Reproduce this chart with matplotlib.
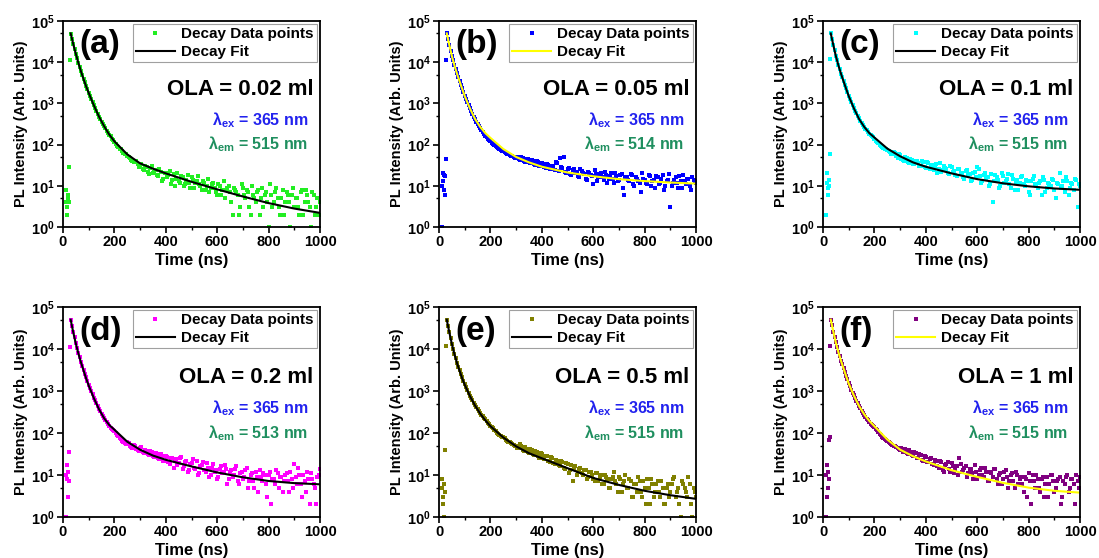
"""
PL decay curves for six OLA amounts, log intensity vs time.
"""

import matplotlib
matplotlib.use("Agg")
import matplotlib.pyplot as plt
from matplotlib.ticker import MultipleLocator, LogLocator, NullFormatter

plt.rcParams["font.family"] = ["Liberation Sans", "DejaVu Sans"]
plt.rcParams["font.weight"] = "bold"
plt.rcParams["mathtext.fontset"] = "custom"
plt.rcParams["mathtext.rm"] = "Liberation Sans:bold"
plt.rcParams["mathtext.bf"] = "Liberation Sans:bold"
plt.rcParams["mathtext.default"] = "bf"

# Time channels of the decay (ns): two interleaved sets of channels
time_ns = list(range(30, 1001, 10))
time_ns2 = list(range(35, 1000, 10))

# Points before the peak (ns) and their counts, one list per panel
pre_t_a = [10, 12, 14, 16, 18, 20, 22, 25, 27]
pre_a = [8, 4, 3, 2, 5, 6, 4, 29, 11000]
pre_t_b = [10, 12, 14, 16, 18, 20, 22, 24, 26, 27]
pre_b = [1, 10, 20, 13, 18, 8, 6, 17, 45, 11000]
pre_t_c = [12, 14, 16, 18, 20, 22, 24, 26, 27]
pre_c = [2, 12, 20, 9, 6, 14, 10, 60, 12000]
pre_t_d = [10, 12, 14, 16, 18, 20, 22, 25, 27]
pre_d = [1, 10, 17, 8, 3, 12, 7, 35, 11000]
pre_t_e = [10, 12, 14, 16, 18, 20, 22, 25, 27]
pre_e = [8, 5, 3, 2, 1, 6, 4, 40, 12000]
pre_t_f = [10, 12, 14, 16, 18, 20, 22, 24, 26, 27]
pre_f = [1, 10, 17, 3, 12, 5, 8, 70, 80, 12000]

# Decay data points on time_ns
data_a = [48000, 27000, 16000, 9800, 6200, 4000, 2700, 1800, 1250, 900,
          650, 480, 360, 280, 215, 170, 140, 115, 95, 80,
          70, 60, 52, 46, 40, 38, 33, 30, 26, 31,
          22, 27, 20, 24, 17, 22, 15, 21, 18, 11,
          19, 15, 13, 17, 10, 14, 12, 16, 9, 13,
          11, 8, 12, 10, 7, 11, 9, 6, 10, 8,
          5, 9, 7, 2, 8, 6, 3, 9, 5, 7,
          2, 6, 4, 8, 5, 3, 7, 1, 6, 4,
          9, 3, 5, 2, 7, 4, 6, 3, 5, 2,
          8, 4, 6, 3, 7, 2, 5, 4]
data_b = [50000, 26000, 14000, 8500, 5400, 3500, 2300, 1550, 1080, 770,
          560, 420, 320, 250, 200, 165, 140, 120, 105, 92,
          82, 75, 68, 62, 58, 54, 50, 47, 44, 49,
          40, 45, 37, 42, 34, 39, 31, 36, 28, 33,
          26, 31, 24, 35, 48, 27, 22, 26, 19, 24,
          21, 17, 25, 20, 15, 22, 18, 11, 19, 16,
          21, 14, 18, 15, 20, 12, 17, 14, 19, 6,
          16, 13, 18, 10, 15, 12, 20, 14, 11, 17,
          13, 9, 16, 12, 18, 10, 14, 3, 12, 16,
          9, 13, 18, 11, 15, 8, 14, 12]
data_c = [50000, 26000, 14500, 8600, 5300, 3500, 2300, 1550, 1080, 780,
          570, 430, 330, 270, 220, 185, 160, 140, 115, 100,
          88, 80, 75, 65, 58, 62, 48, 55, 42, 50,
          38, 45, 34, 41, 36, 30, 38, 27, 35, 30,
          24, 33, 26, 22, 30, 25, 19, 28, 23, 17,
          25, 21, 15, 24, 19, 14, 22, 28, 17, 13,
          20, 16, 11, 4, 18, 14, 10, 17, 13, 19,
          9, 15, 12, 8, 16, 11, 14, 7, 13, 17,
          10, 12, 6, 14, 9, 11, 15, 8, 12, 20,
          10, 7, 13, 9, 11, 15, 3, 10]
data_d = [50000, 25500, 14000, 8000, 5000, 3200, 2100, 1400, 980, 700,
          510, 380, 290, 230, 180, 150, 125, 110, 90, 78,
          66, 58, 62, 50, 45, 48, 40, 44, 36, 40,
          31, 37, 28, 33, 26, 31, 22, 28, 20, 26,
          15, 24, 19, 27, 16, 21, 13, 19, 15, 22,
          11, 17, 13, 19, 9, 15, 12, 8, 14, 11,
          17, 6, 12, 9, 14, 7, 11, 8, 13, 5,
          10, 7, 12, 4, 9, 11, 6, 10, 2, 8,
          13, 5, 9, 7, 11, 4, 8, 18, 6, 10,
          3, 7, 12, 2, 8, 5, 9, 14]
data_e = [50000, 25000, 13500, 7700, 4700, 3100, 2100, 1450, 1050, 780,
          600, 470, 370, 300, 250, 210, 170, 150, 130, 110,
          95, 85, 80, 70, 62, 58, 52, 48, 44, 50,
          38, 42, 33, 39, 30, 35, 26, 31, 24, 28,
          20, 25, 18, 22, 16, 20, 14, 18, 13, 7,
          16, 12, 15, 10, 13, 9, 12, 8, 11, 7,
          10, 6, 9, 5, 8, 12, 6, 9, 4, 7,
          5, 8, 3, 6, 4, 7, 3, 5, 8, 2,
          6, 4, 7, 3, 5, 2, 6, 4, 8, 3,
          5, 1, 6, 4, 9, 2, 5, 3]
data_f = [50000, 26000, 14500, 8500, 5300, 3500, 2300, 1550, 1080, 790,
          580, 440, 340, 270, 220, 180, 155, 140, 115, 95,
          82, 72, 66, 58, 53, 48, 44, 40, 36, 42,
          31, 36, 28, 33, 25, 30, 22, 27, 20, 25,
          17, 22, 15, 20, 12, 18, 14, 19, 11, 16,
          25, 12, 15, 9, 14, 11, 17, 8, 13, 10,
          15, 7, 12, 9, 14, 6, 11, 8, 13, 5,
          10, 7, 12, 6, 9, 4, 8, 11, 2, 7,
          10, 5, 8, 3, 9, 6, 10, 4, 7, 9,
          3, 6, 10, 5, 8, 2, 7, 9]

# Decay data points on time_ns2
data2_a = [37000, 21000, 12500, 7800, 5000, 3300, 2200, 1500, 1080, 770,
           560, 420, 320, 250, 195, 160, 130, 105, 88, 76,
           64, 58, 50, 43, 37, 40, 29, 34, 24, 28,
           19, 30, 22, 18, 25, 13, 20, 16, 23, 14,
           10, 21, 12, 16, 11, 18, 9, 14, 12, 17,
           10, 13, 8, 15, 9, 12, 7, 11, 6, 13,
           8, 10, 4, 9, 7, 2, 11, 6, 8, 3,
           10, 5, 7, 2, 9, 6, 4, 11, 3, 7,
           5, 2, 8, 4, 6, 1, 9, 5, 3, 7,
           2, 8, 4, 1, 6, 3, 2]
data2_b = [37000, 19000, 11000, 6800, 4300, 2800, 1900, 1280, 900, 650,
           480, 360, 280, 225, 180, 150, 130, 112, 98, 86,
           78, 70, 65, 60, 55, 52, 46, 50, 42, 46,
           38, 44, 35, 40, 32, 37, 30, 34, 27, 32,
           25, 30, 38, 23, 28, 50, 21, 27, 18, 25,
           22, 16, 23, 19, 14, 21, 17, 24, 13, 19,
           16, 22, 12, 17, 15, 20, 13, 18, 9, 16,
           14, 19, 11, 16, 13, 7, 15, 12, 18, 10,
           14, 17, 11, 15, 8, 13, 19, 10, 14, 12,
           17, 9, 13, 15, 10, 16, 13]
data2_c = [37000, 19500, 11200, 6900, 4300, 2850, 1900, 1300, 920, 670,
           500, 380, 300, 245, 200, 170, 150, 125, 108, 94,
           84, 78, 70, 60, 66, 52, 58, 45, 40, 47,
           36, 43, 33, 39, 31, 40, 28, 37, 25, 32,
           28, 21, 35, 24, 27, 20, 30, 22, 18, 26,
           20, 16, 23, 18, 13, 21, 16, 25, 12, 18,
           15, 10, 19, 13, 16, 9, 20, 12, 15, 11,
           18, 8, 14, 12, 17, 10, 13, 6, 15, 11,
           9, 13, 16, 7, 12, 10, 14, 5, 11, 9,
           13, 16, 6, 12, 8, 14, 11]
data2_d = [36000, 19000, 10500, 6300, 4000, 2600, 1700, 1180, 830, 600,
           440, 330, 260, 205, 165, 135, 118, 100, 84, 72,
           62, 55, 58, 47, 52, 42, 38, 46, 34, 38,
           30, 35, 27, 32, 24, 29, 21, 27, 18, 25,
           22, 17, 25, 14, 20, 12, 18, 24, 14, 10,
           16, 20, 12, 15, 10, 18, 13, 9, 16, 12,
           14, 8, 13, 10, 16, 6, 12, 9, 15, 7,
           11, 5, 9, 13, 7, 10, 3, 12, 8, 6,
           11, 9, 4, 10, 7, 12, 5, 9, 15, 6,
           10, 4, 8, 11, 6, 2, 10]
data2_e = [35000, 18500, 10000, 6000, 3800, 2550, 1750, 1250, 900, 680,
           530, 420, 330, 270, 230, 190, 160, 140, 120, 102,
           90, 82, 75, 66, 60, 55, 50, 45, 54, 40,
           46, 36, 42, 32, 37, 28, 33, 25, 29, 22,
           27, 19, 23, 17, 21, 15, 19, 11, 17, 14,
           10, 14, 11, 13, 8, 12, 10, 7, 11, 9,
           6, 10, 8, 5, 9, 7, 4, 8, 6, 10,
           5, 7, 3, 6, 9, 4, 7, 2, 5, 8,
           3, 6, 4, 7, 2, 5, 3, 6, 9, 4,
           2, 7, 5, 3, 6, 1, 4]
data2_f = [37000, 19500, 11000, 6800, 4300, 2850, 1900, 1300, 920, 680,
           510, 390, 300, 245, 200, 165, 145, 125, 105, 88,
           77, 68, 62, 55, 50, 46, 42, 45, 38, 33,
           39, 30, 35, 26, 31, 23, 28, 20, 24, 18,
           23, 16, 21, 13, 17, 20, 12, 16, 14, 10,
           18, 13, 16, 11, 14, 8, 12, 10, 15, 9,
           12, 7, 11, 14, 8, 10, 6, 12, 9, 7,
           11, 5, 10, 8, 6, 9, 3, 7, 10, 5,
           8, 4, 9, 6, 3, 10, 7, 5, 8, 2,
           7, 9, 4, 8, 6, 10, 5]

fit_t = [30, 35, 40, 50, 60, 70, 80, 90, 100, 120, 140, 160, 180, 200,
         250, 300, 350, 400, 500, 600, 700, 800, 900, 1000]
fit_a = [50000, 37000, 27500, 16000, 9600, 6000, 3900, 2600, 1800, 900,
         480, 280, 175, 120, 58, 35, 26, 20, 12.5, 8.2, 5.5, 3.8, 2.8, 2.2]
fit_b = [50000, 36000, 26000, 14000, 8300, 5200, 3400, 2250, 1500, 760,
         420, 270, 190, 145, 78, 50, 37, 29, 21, 17, 14.5, 13, 12, 11.3]
fit_c = [50000, 36000, 26000, 14000, 8300, 5200, 3400, 2250, 1500, 760,
         420, 270, 190, 148, 80, 52, 37, 29, 20, 14.5, 11.5, 9.7, 8.6, 8]
fit_d = [50000, 35000, 25000, 13500, 7800, 4800, 3100, 2000, 1350, 680,
         370, 225, 155, 120, 62, 40, 29, 23, 16, 11.5, 8.8, 7.2, 6.4, 6]
fit_e = [50000, 35000, 25000, 13000, 7500, 4600, 3000, 2000, 1400, 760,
         450, 290, 200, 145, 78, 48, 33, 25, 14.5, 8.5, 5.8, 4.2, 3.3, 2.7]
fit_f = [50000, 36000, 26000, 14000, 8300, 5200, 3400, 2250, 1500, 780,
         440, 280, 195, 145, 70, 40, 28, 21, 13, 9, 6.5, 5, 4.2, 3.8]

panel_tags = ["(a)", "(b)", "(c)", "(d)", "(e)", "(f)"]
ola_labels = ["OLA = 0.02 ml", "OLA = 0.05 ml", "OLA = 0.1 ml",
              "OLA = 0.2 ml", "OLA = 0.5 ml", "OLA = 1 ml"]
em_nm = [515, 514, 515, 513, 515, 515]

panels = [
    (pre_t_a, pre_a, data_a, data2_a, fit_a, "#22ee22", "black"),
    (pre_t_b, pre_b, data_b, data2_b, fit_b, "#0000ff", "#ffff00"),
    (pre_t_c, pre_c, data_c, data2_c, fit_c, "#00ffff", "black"),
    (pre_t_d, pre_d, data_d, data2_d, fit_d, "#ff00ff", "black"),
    (pre_t_e, pre_e, data_e, data2_e, fit_e, "#808000", "black"),
    (pre_t_f, pre_f, data_f, data2_f, fit_f, "#800080", "#ffff00"),
]

fig = plt.figure(figsize=(10.99, 5.58), dpi=100)

lefts = [0.0573, 0.3995, 0.7489]
rows = [(0.5932, 0.3692), (0.0735, 0.3763)]

for i, (pre_t, pre_v, data, data2, fit, dcol, fcol) in enumerate(panels):
    bottom, height = rows[i // 3]
    ax = fig.add_axes([lefts[i % 3], bottom, 0.2339, height])

    ax.plot(pre_t + time_ns + time_ns2, pre_v + data + data2,
            linestyle="none", marker="s", markersize=2.6,
            markeredgewidth=0, color=dcol, label="Decay Data points")
    ax.plot(fit_t, fit, color=fcol, linewidth=1.5, label="Decay Fit")

    ax.set_yscale("log")
    ax.set_xlim(0, 1000)
    ax.set_ylim(1, 1e5)
    ax.xaxis.set_major_locator(MultipleLocator(200))
    ax.xaxis.set_minor_locator(MultipleLocator(100))
    ax.yaxis.set_major_locator(LogLocator(base=10, numticks=10))
    ax.yaxis.set_minor_locator(LogLocator(base=10, subs=[5], numticks=10))
    ax.yaxis.set_minor_formatter(NullFormatter())
    ax.tick_params(which="major", direction="out", length=4, width=1.2,
                   labelsize=10.5, pad=2)
    ax.tick_params(which="minor", direction="out", length=2.5, width=1)
    for s in ax.spines.values():
        s.set_linewidth(1.3)

    ax.set_xlabel("Time (ns)", fontsize=12, fontweight="bold", labelpad=3)
    ax.set_ylabel("PL Intensity (Arb. Units)", fontsize=10.5,
                  fontweight="bold", labelpad=2)

    leg = ax.legend(loc="upper right", fontsize=11, frameon=True,
                    fancybox=False, edgecolor="#888888", handlelength=2.6,
                    handletextpad=0.4, borderaxespad=0.2, borderpad=0.2,
                    labelspacing=0.25, markerscale=1.1)
    leg.get_frame().set_linewidth(0.8)

    ax.text(0.065, 0.885, panel_tags[i], transform=ax.transAxes,
            fontsize=24, fontweight="bold", va="center", ha="left")
    ax.text(0.975, 0.665, ola_labels[i], transform=ax.transAxes,
            fontsize=16, fontweight="bold", va="center", ha="right")
    ax.text(0.955, 0.52, "λ$_{ex}$ = 365 nm", transform=ax.transAxes,
            fontsize=11.5, fontweight="bold", color="#2222ee",
            va="center", ha="right")
    ax.text(0.955, 0.40, "λ$_{em}$ = %d nm" % em_nm[i],
            transform=ax.transAxes, fontsize=11.5, fontweight="bold",
            color="#1f8f5f", va="center", ha="right")

plt.savefig("out.png", dpi=100)
